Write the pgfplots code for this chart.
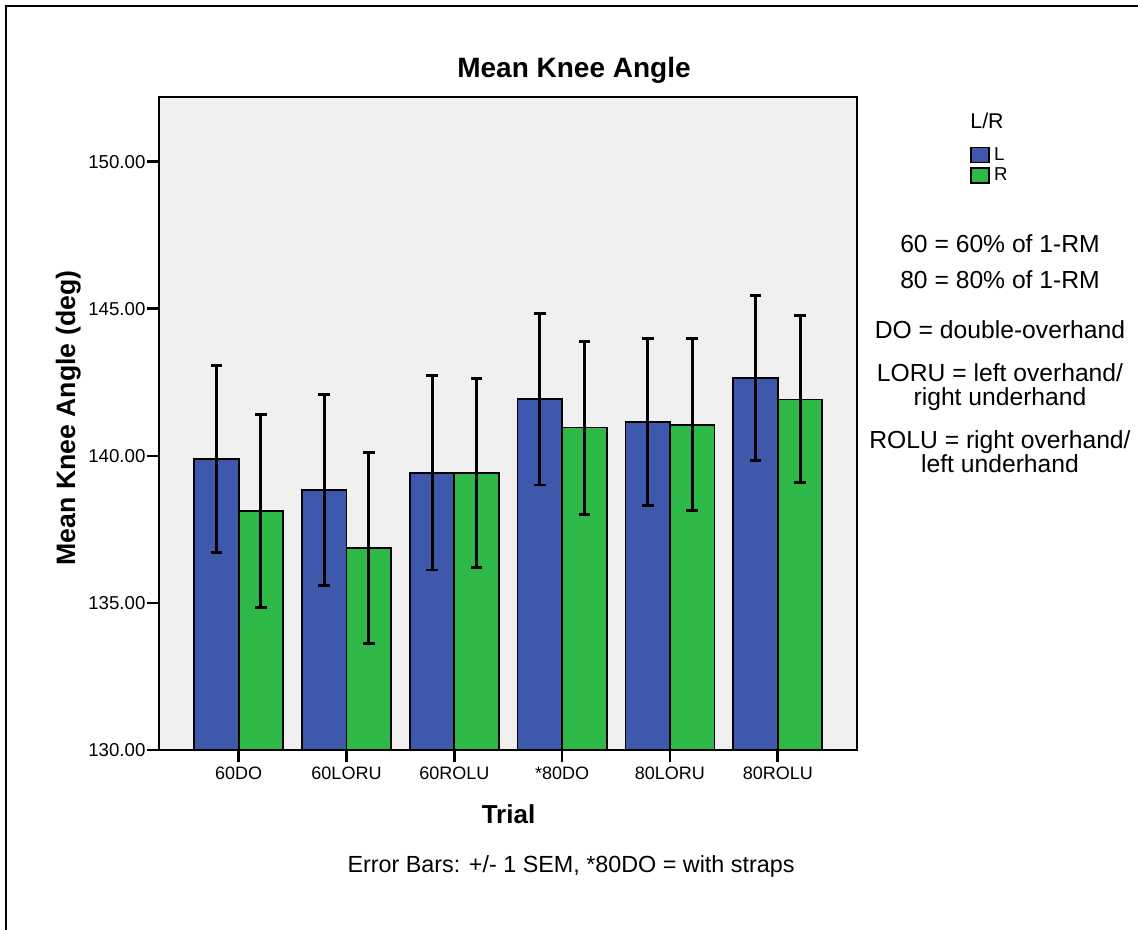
\documentclass[border=0pt]{standalone}
\usepackage{pgfplots}
\pgfplotsset{compat=1.18}
\usepackage{fontspec}
\setmainfont{Liberation Sans}
\definecolor{barL}{RGB}{62,88,172}
\definecolor{barR}{RGB}{46,184,72}
\definecolor{plotbg}{RGB}{240,240,240}
\begin{document}
\begin{tikzpicture}[x=0.75pt,y=-0.75pt]
\useasboundingbox (0,0) rectangle (1138,930);
\draw[line width=1.5pt] (6,930) -- (6,6) -- (1138,6);
\begin{axis}[
  at={(119.25pt,-562.5pt)}, anchor=south west,
  scale only axis, width=523.5pt, height=489.75pt,
  xmin=-0.739, xmax=5.735, ymin=130, ymax=152.2,
  ybar=0pt, bar width=33.4pt,
  axis background/.style={fill=plotbg},
  axis line style={line width=1.3pt},
  xtick={0,1,2,3,4,5},
  xticklabels={60DO,60LORU,60ROLU,*80DO,80LORU,80ROLU},
  ytick={130,135,140,145,150},
  tick align=outside, major tick length=9pt, tick pos=left,
  major tick style={line width=2pt, black},
  /pgf/number format/assume math mode=true,
  yticklabel style={font=\fontsize{14}{16}\selectfont, inner xsep=1pt,
    /pgf/number format/fixed, /pgf/number format/fixed zerofill,
    /pgf/number format/precision=2},
  xticklabel style={font=\fontsize{13.5}{15}\selectfont},
  legend style={at={(1.1619,0.925)}, anchor=north west, draw=none, fill=none,
    inner sep=0pt, font=\fontsize{14}{16}\selectfont, row sep=2pt,
    nodes={inner ysep=1pt, inner xsep=3pt}},
  legend cell align=left,
]
\addplot[fill=barL, draw=black, line width=1.3pt,
  legend image code/.code={\draw[fill=barL,draw=black,line width=1.3pt] (0pt,-5.6pt) rectangle (13.5pt,5.6pt);},
  error bars/.cd, y dir=both, y explicit,
  error bar style={line width=2.2pt, black},
  error mark options={rotate=90, mark size=4.4pt, line width=2.2pt, black}]
  coordinates {
  (0,139.89) +- (0,3.18)
  (1,138.84) +- (0,3.26)
  (2,139.42) +- (0,3.30)
  (3,141.93) +- (0,2.92)
  (4,141.15) +- (0,2.84)
  (5,142.65) +- (0,2.80)
  };
\addlegendentry{L}
\addplot[fill=barR, draw=black, line width=1.3pt,
  legend image code/.code={\draw[fill=barR,draw=black,line width=1.3pt] (0pt,-5.6pt) rectangle (13.5pt,5.6pt);},
  error bars/.cd, y dir=both, y explicit,
  error bar style={line width=2.2pt, black},
  error mark options={rotate=90, mark size=4.4pt, line width=2.2pt, black}]
  coordinates {
  (0,138.13) +- (0,3.27)
  (1,136.87) +- (0,3.24)
  (2,139.42) +- (0,3.22)
  (3,140.96) +- (0,2.94)
  (4,141.06) +- (0,2.92)
  (5,141.92) +- (0,2.84)
  };
\addlegendentry{R}
\end{axis}
\node[anchor=base, font=\fontsize{21}{24}\selectfont\bfseries] at (574,78) {Mean Knee Angle};
\node[anchor=base, rotate=90, font=\fontsize{20}{24}\selectfont\bfseries] at (75,418) {Mean Knee Angle (deg)};
\node[anchor=base, font=\fontsize{19.5}{23}\selectfont\bfseries] at (508.5,823) {Trial};
\node[anchor=base, font=\fontsize{17.5}{20}\selectfont] at (571,872) {Error Bars: +/- 1 SEM, *80DO = with straps};
\node[anchor=base, font=\fontsize{16}{18}\selectfont] at (987,129) {L/R};
\begin{scope}[every node/.style={anchor=base, font=\fontsize{18.5}{21}\selectfont}]
\node at (1000,253) {60 = 60\% of 1-RM};
\node at (1000,289) {80 = 80\% of 1-RM};
\node at (1000,339) {DO = double-overhand};
\node at (1000,381) {LORU = left overhand/};
\node at (1000,405) {right underhand};
\node at (1000,448) {ROLU = right overhand/};
\node at (1000,472) {left underhand};
\end{scope}
\end{tikzpicture}
\end{document}
